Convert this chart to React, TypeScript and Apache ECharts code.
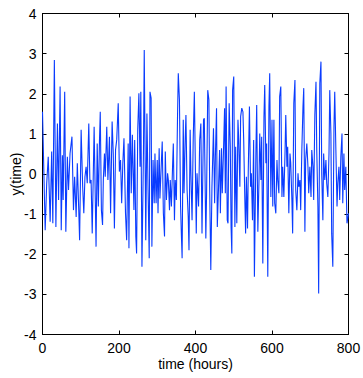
import React, { useEffect, useRef } from "react";
import * as echarts from "echarts";

const xTicks = [0, 200, 400, 600, 800];
const yTicks = [-4, -3, -2, -1, 0, 1, 2, 3, 4];

const times = [
  0, 7, 11, 15, 20, 24, 27, 31, 35, 39, 42, 46, 49, 52, 54, 58, 61, 65, 68, 72, 77, 81, 84, 88, 91, 95, 97, 101, 105, 108, 111, 114, 117, 121, 124, 127, 130, 135,
  140, 143, 146, 149, 151, 154, 157, 159, 162, 164, 168, 171, 175, 178, 182, 185, 188, 191, 194, 198, 201, 204, 207, 210, 213, 217, 220, 224, 226, 229, 232, 235, 239, 241, 244, 246, 249, 252, 255, 257, 260, 264, 266,
  270, 273, 276, 279, 281, 284, 286, 289, 292, 294, 297, 300, 302, 305, 307, 311, 313, 316, 319, 321, 324, 327, 329, 332, 334, 337, 340, 342, 345, 347, 350, 353, 355, 358, 361, 363, 365, 368, 370, 373, 375, 378, 381, 383, 386, 388, 391, 394, 397,
  402, 404, 408, 411, 414, 417, 421, 423, 427, 429, 432, 435, 437, 440, 443, 447, 450, 452, 455, 457, 460, 463, 465, 468, 470, 473, 476, 478, 480, 483, 485, 488, 491, 493, 495, 497, 500, 503, 505, 508, 511, 513, 516, 518, 521, 524, 526, 529,
  531, 533, 536, 538, 541, 544, 546, 549, 552, 554, 558, 560, 563, 566, 568, 571, 573, 576, 579, 581, 584, 586, 589, 592, 594, 597, 600, 602, 605, 607, 610, 613, 615, 618, 620, 623, 626, 628, 631, 634, 636, 639, 641, 644, 647, 649, 652, 654, 657, 660,
  662, 665, 668, 670, 673, 675, 678, 681, 683, 686, 688, 691, 694, 696, 699, 702, 704, 707, 709, 712, 715, 717, 720, 722, 725, 728, 730, 733, 735, 738, 741, 743, 746, 749, 751, 754, 756, 759, 762, 764, 767, 770, 772, 775, 777, 780, 783, 785, 788, 790, 793, 796, 800,
];

const values = [
  1.55, -1.4, -0.23, 0.43, -1.19, 0.56, -1.23, 2.84, -1.32, 1.26, -0.65, 2.18, -1.4, 0.47, -0.65, 2.05, -1.44, 0.43, -0.4, 0.51, 0.93, -0.9, -0.07, -1.07, 0.27, -0.98, -1.65, 1.1, -0.32, -0.98, -0.07, 0.18, -0.23, 1.26, -0.23, -0.15, -1.48, 1.18,
  -1.81, 0.76, -0.81, 0.85, 1.55, -0.9, -1.27, -0.15, 0.51, -0.07, 1.18, -0.15, 0.93, -0.98, 1.31, 0.51, -1.36, 0.6, 0.85, 1.76, 0.06, 0.35, -0.73, 0.27, 0.89, -0.98, -1.65, 0.76, -1.85, 1.93, -0.48, 0.98, -0.9, 0.85, -1.56, -1.98, 1.1, 2.01, 0.18, 2.05, -2.31, 0.6, 3.09,
  -1.65, 1.51, -0.4, -2.1, 2.05, 1.89, -1.81, 0.35, -0.73, 0.51, -0.73, 0.35, -0.98, 0.64, -0.61, 0.35, 0.81, -0.98, -1.56, 0.56, -0.65, 0.02, -0.15, -0.9, -0.15, -0.81, 0.18, 0.76, -1.15, -0.15, -0.65, 1.43, 2.51, 1.85, -0.81, -1.48, -2.1, 1.35, -0.48, 0.85, 1.47, -0.4, -1.07, -1.9, 1.1, 0.02, -1.15, 0.85, 2.05,
  -1.48, 0.02, -0.81, 0.85, 1.26, -1.48, 1.35, 1.39, -1.61, -0.48, 2.09, 1.85, -0.32, -2.39, -0.32, 1.14, -0.73, 0.43, 1.64, -1.32, -0.4, 0.6, -0.98, 0.64, -0.48, 0.51, 1.64, -0.48, 2.18, -1.15, -1.23, 1.76, 0.68, -1.32, -1.98, 2.09, 2.43, -1.32, 0.68, -1.23, 1.35, 0.85, -0.32, 1.43, 1.64, 1.55, 0.85, -0.65,
  -1.48, -0.07, -1.36, 0.1, 1.68, -0.32, 0.02, -1.15, 0.85, -2.56, 0.6, 1.72, -1.44, -0.15, 1.01, -0.15, 0.93, -2.23, 1.43, 2.22, 0.27, 0.76, -2.56, 1.68, 2.51, -0.57, 1.35, -0.81, 1.35, -0.73, -0.98, 0.35, -0.15, -0.48, 1.93, 2.18, -0.57, 0.18, -0.57, 0.51, 1.47, 0.18, 0.68, -0.98, 0.51, 0.27, -0.65, -1.48, 1.76, 2.34,
  -0.4, -0.9, 0.02, -0.32, -0.15, -0.9, 0.6, 1.68, 2.14, -1.44, 0.35, 0.76, 0.18, -0.48, 0.18, -0.57, 0.6, 0.18, -0.65, 1.47, 2.3, 0.6, -0.81, -2.98, 2.26, 2.8, 0.02, -1.15, 0.51, -0.15, 0.35, -0.23, -0.57, 0.51, 2.09, 1.01, -1.48, -2.31, 1.18, 2.05, 0.6, -0.81, -0.23, 0.18, -0.65, 0.43, 1.01, -0.73, 0.51, -0.4, 0.18, -1.23, -0.98,
];

const xName = "time (hours)";
const yName = "y(time)";

const FONT = "'Liberation Sans', Arial, Helvetica, sans-serif";

export default function App() {
  const ref = useRef<HTMLDivElement>(null);
  useEffect(() => {
    if (!ref.current) return;
    const chart = echarts.init(ref.current, undefined, { renderer: "svg" });
    const data = times.map((t, i) => [t, values[i]]);
    const xMin = xTicks[0];
    const xMax = xTicks[xTicks.length - 1];
    const xInt = xTicks[1] - xTicks[0];
    const yMin = yTicks[0];
    const yMax = yTicks[yTicks.length - 1];
    const yInt = yTicks[1] - yTicks[0];
    const axisLine = { show: true, onZero: false, lineStyle: { color: "#000", width: 1 } };
    const tick = { show: true, inside: true, length: 4, lineStyle: { color: "#000", width: 1 } };
    const label = { color: "#000", fontSize: 14, fontFamily: FONT };
    chart.setOption({
      animation: false,
      backgroundColor: "#fff",
      grid: {
        left: 42.5,
        right: 14.5,
        top: 13.5,
        bottom: 43.5,
        containLabel: false,
        outerBoundsMode: "none",
      },
      xAxis: [
        {
          type: "value",
          min: xMin,
          max: xMax,
          interval: xInt,
          position: "bottom",
          axisLine,
          axisTick: tick,
          axisLabel: { ...label, margin: 6 },
          splitLine: { show: false },
          name: xName,
          nameLocation: "middle",
          nameGap: 22,
          nameMoveOverlap: false,
          nameTextStyle: { color: "#000", fontSize: 14, fontFamily: FONT },
        },
        {
          type: "value",
          min: xMin,
          max: xMax,
          interval: xInt,
          position: "top",
          axisLine,
          axisTick: tick,
          axisLabel: { show: false },
          splitLine: { show: false },
        },
      ],
      yAxis: [
        {
          type: "value",
          min: yMin,
          max: yMax,
          interval: yInt,
          position: "left",
          axisLine,
          axisTick: tick,
          axisLabel: { ...label, margin: 6 },
          splitLine: { show: false },
          name: yName,
          nameLocation: "middle",
          nameGap: 20,
          nameRotate: 90,
          nameMoveOverlap: false,
          nameTextStyle: { color: "#000", fontSize: 14, fontFamily: FONT },
        },
        {
          type: "value",
          min: yMin,
          max: yMax,
          interval: yInt,
          position: "right",
          axisLine,
          axisTick: tick,
          axisLabel: { show: false },
          splitLine: { show: false },
        },
      ],
      series: [
        {
          type: "line",
          data,
          xAxisIndex: 0,
          yAxisIndex: 0,
          showSymbol: false,
          symbol: "none",
          lineStyle: { color: "#0a3cff", width: 1.1 },
          itemStyle: { color: "#0a3cff" },
        },
      ],
    });
    return () => chart.dispose();
  }, []);
  return (
    <div
      ref={ref}
      style={{ position: "fixed", left: 0, top: 0, width: 363, height: 378, background: "#fff" }}
    />
  );
}
